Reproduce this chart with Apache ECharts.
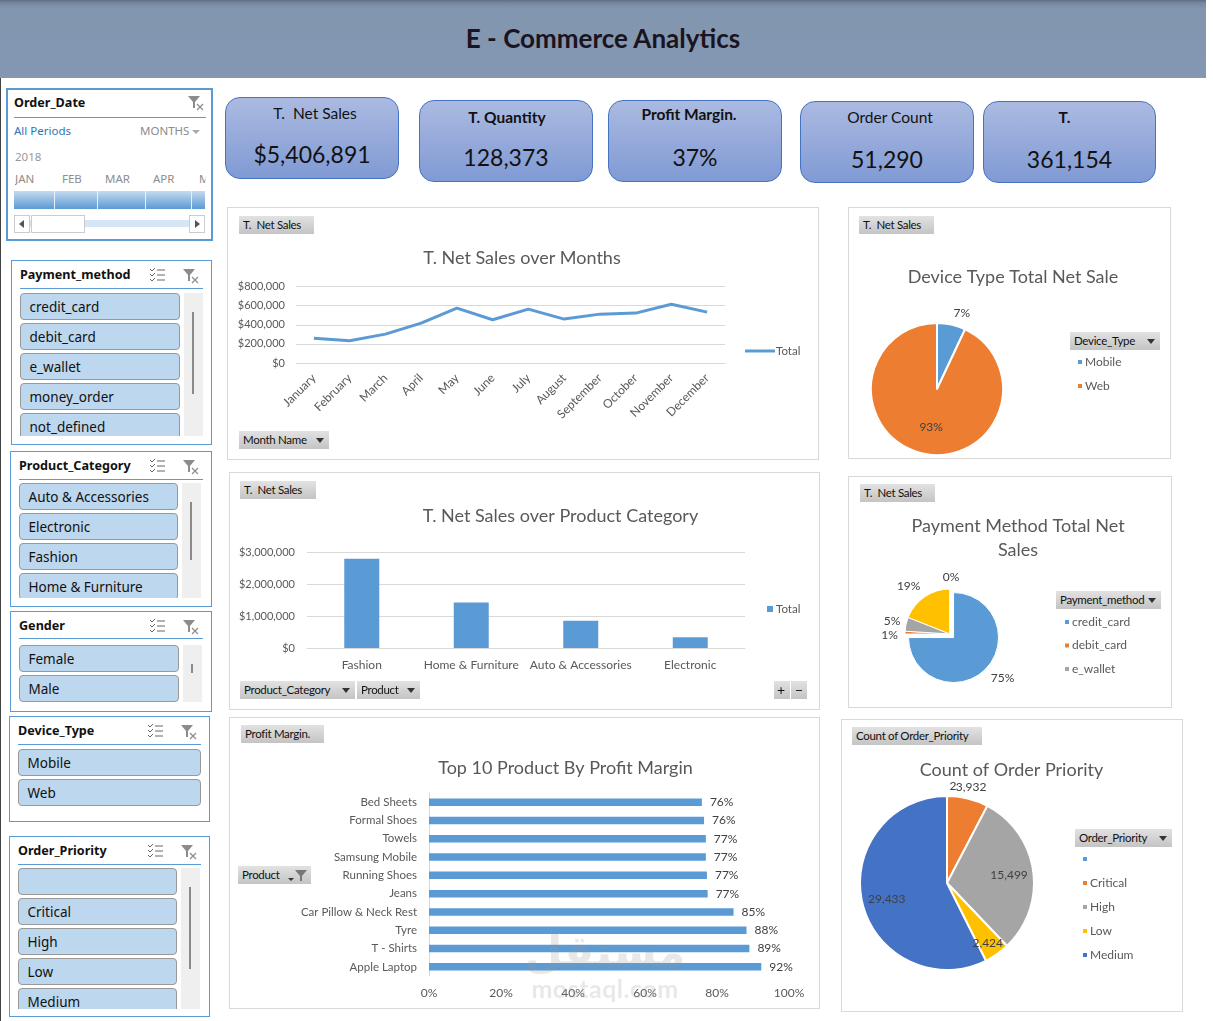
<!DOCTYPE html>
<html>
<head>
<meta charset="utf-8">
<title>E - Commerce Analytics</title>
<script src="https://cdn.jsdelivr.net/npm/echarts@6/dist/echarts.min.js"></script>
<style>
html,body{margin:0;padding:0;background:#fff;width:1213px;height:1021px;overflow:hidden;}
body{position:relative;font-family:Lato,sans-serif;}
div{box-sizing:border-box;}
.abs{position:absolute;}
#leftline{position:absolute;left:0;top:78px;width:1px;height:943px;background:#444;}
#header{position:absolute;left:0;top:0;width:1206px;height:78px;background:linear-gradient(#5f6d85 0,#76889f 3px,#8296b0 9px,#8497b2 100%);
  text-align:center;line-height:76px;font-size:26px;font-weight:700;color:#1a1420;}
.card{position:absolute;width:174px;height:82px;border:1px solid #4472c4;border-radius:15px;
  background:linear-gradient(#abbae1,#809ad4);text-align:center;color:#111;}
.card .lbl{position:absolute;left:0;right:0;font-size:15.5px;}
.card .val{position:absolute;left:0;right:0;font-size:23px;}
.frame{position:absolute;border:1px solid #d9d9d9;background:#fff;}
.frame .chart{position:absolute;left:0;top:0;width:100%;height:100%;}
.btn{position:absolute;height:18px;line-height:17px;padding-left:4px;font-size:11.5px;color:#111;white-space:nowrap;
  background:linear-gradient(#e2e2e2,#c4c4c4);letter-spacing:-.3px;}
.btn i{position:absolute;right:5px;top:7px;width:0;height:0;border:4px solid transparent;border-top:5px solid #333;border-bottom:0;}
.slicer{position:absolute;border:1.5px solid #5b9bd5;background:#fff;overflow:hidden;}
.slicer .st{position:absolute;font:700 12.6px "Noto Sans",sans-serif;color:#111;white-space:nowrap;}
.slicer .rule{position:absolute;height:1px;background:#5b9bd5;}
.slicer .item{position:absolute;height:27px;background:#bdd7ee;border:1px solid #999;border-radius:4px;
  font:13.5px/26px "Noto Sans",sans-serif;color:#111;padding-left:8.5px;white-space:nowrap;}
.slicer .clip{position:absolute;overflow:hidden;}
.slicer .track{position:absolute;background:#efefef;}
.slicer .thumb{position:absolute;width:2px;background:#8a8a8a;}
.slicer svg{position:absolute;}
.mon{position:absolute;font:11.5px "Noto Sans",sans-serif;color:#8c8c8c;white-space:nowrap;}
#watermark{position:absolute;left:500px;top:928px;width:210px;text-align:center;color:rgba(150,150,150,.22);pointer-events:none;}
</style>
</head>
<body>
<div id="leftline"></div>
<div id="header">E - Commerce Analytics</div>
<div id="cards"></div>
<div id="slicers"></div>

<div class="frame" style="left:227px;top:207px;width:592px;height:253px">
  <div class="chart" id="lineChart"></div>
  <div class="btn" style="left:11px;top:8px;width:75px">T.&nbsp; Net Sales</div>
  <div class="btn" style="left:11px;top:223px;width:90px">Month Name<i></i></div>
</div>
<div class="frame" style="left:229px;top:472px;width:591px;height:238px">
  <div class="chart" id="columnChart"></div>
  <div class="btn" style="left:10px;top:8px;width:76px">T.&nbsp; Net Sales</div>
  <div class="btn" style="left:10px;top:208px;width:115px">Product_Category<i></i></div>
  <div class="btn" style="left:127px;top:208px;width:63px">Product<i></i></div>
  <div class="btn" style="left:544px;top:208px;width:16px;padding-left:3px;font-size:14px">+</div>
  <div class="btn" style="left:561px;top:208px;width:16px;padding-left:4px;font-size:14px">&minus;</div>
</div>
<div class="frame" style="left:229px;top:717px;width:591px;height:292px">
  <div class="chart" id="barChart"></div>
  <div class="btn" style="left:11px;top:7px;width:83px">Profit Margin.</div>
  <div class="btn" style="left:8px;top:148px;width:73px">Product
    <svg style="position:absolute;left:47px;top:3px" width="24" height="13"><path d="M3 9h6l-3 3z" fill="#333"/><path d="M10 1h12l-5 6v5h-2V7z" fill="#777"/></svg>
  </div>
</div>
<div class="frame" style="left:848px;top:207px;width:323px;height:252px">
  <div class="chart" id="devicePie"></div>
  <div class="btn" style="left:10px;top:8px;width:75px">T.&nbsp; Net Sales</div>
  <div class="btn" style="left:221px;top:124px;width:90px">Device_Type<i></i></div>
</div>
<div class="frame" style="left:848px;top:476px;width:324px;height:232px">
  <div class="chart" id="paymentPie"></div>
  <div class="btn" style="left:11px;top:7px;width:75px">T.&nbsp; Net Sales</div>
  <div class="btn" style="left:207px;top:114px;width:105px">Payment_method<i></i></div>
</div>
<div class="frame" style="left:841px;top:719px;width:342px;height:293px">
  <div class="chart" id="priorityPie"></div>
  <div class="btn" style="left:10px;top:7px;width:130px">Count of Order_Priority</div>
  <div class="btn" style="left:233px;top:109px;width:97px">Order_Priority<i></i></div>
</div>

<div id="watermark">
  <div style="font:700 44px/48px 'DejaVu Sans',sans-serif">مستقل</div>
  <div style="font:700 25px/24px Lato,sans-serif;letter-spacing:.5px">mostaql.com</div>
</div>

<script>
// chart values
var months = ['January','February','March','April','May','June','July','August','September','October','November','December'];
var monthSales = [260000,233000,302000,417000,574000,452000,563000,459000,511000,522000,615000,532000];

var categories = ['Fashion','Home & Furniture','Auto & Accessories','Electronic'];
var categorySales = [2790000,1420000,850000,335000];

var products = ['Bed Sheets','Formal Shoes','Towels','Samsung Mobile','Running Shoes','Jeans','Car Pillow & Neck Rest','Tyre','T - Shirts','Apple Laptop'];
var margins = [0.758,0.764,0.769,0.769,0.772,0.774,0.846,0.882,0.890,0.923];

var deviceNames = ['Mobile','Web'];
var deviceShare = [7,93];

var paymentNames = ['credit_card','debit_card','e_wallet','money_order','not_defined'];
var paymentShare = [75,1,5,19,0];

// first name is the blank priority, its "2" sits on top of the 3,932 label
var priorityNames = [' ','Critical','High','Low','Medium'];
var priorityCounts = [2,3932,15499,2424,29433];

var kpiLabels = ['T.&nbsp; Net Sales','T. Quantity','Profit Margin.','Order Count','T.'];
var kpiValues = ['$5,406,891','128,373','37%','51,290','361,154'];

var paymentItems = paymentNames;
var categoryItems = ['Auto & Accessories','Electronic','Fashion','Home & Furniture'];
var genderItems = ['Female','Male'];
var deviceItems = deviceNames;
var priorityItems = ['','Critical','High','Low','Medium'];
var dateMonths = ['JAN','FEB','MAR','APR','M'];

var pieColors = ['#5b9bd5','#ed7d31','#a5a5a5','#ffc000','#4472c4'];
var textGray = '#595959';

// ---- KPI cards: x, y, label y, value y, label nudge
var cardBoxes = [[225,97,114,154,3],[419,100,118,157,1],[608,100,115,157,-6],[800,101,118,159,3],[983,101,118,159,-5]];
var cardHtml = '';
kpiLabels.forEach(function (l, i) {
  var b = cardBoxes[i], bold = (i == 1 || i == 2 || i == 4) ? 'font-weight:700;' : '';
  cardHtml += '<div class="card" style="left:' + b[0] + 'px;top:' + b[1] + 'px;width:' + (i == 4 ? 173 : 174) + 'px">' +
    '<div class="lbl" style="' + bold + 'top:' + (b[2] - b[1] - 11) + 'px;transform:translateX(' + b[4] + 'px)">' + l + '</div>' +
    '<div class="val" style="top:' + (b[3] - b[1] - 15) + 'px">' + kpiValues[i] + '</div></div>';
});
document.getElementById('cards').innerHTML = cardHtml;

// ---- slicers
var filterIcon = function (x, y) {
  return '<svg style="left:' + x + 'px;top:' + y + 'px" width="18" height="18"><path d="M1 2h12l-5 6v6h-2V8z" fill="#8c8c8c"/>' +
    '<path d="M10 10l6 6M16 10l-6 6" stroke="#8c8c8c" stroke-width="1.2"/></svg>';
};
var listIcon = function (x, y) {
  return '<svg style="left:' + x + 'px;top:' + y + 'px" width="18" height="16" fill="none" stroke="#666" stroke-width="1">' +
    '<path d="M1 2l2 2 3-3M1 7l2 2 3-3M1 12l2 2 3-3"/><path d="M8 3h8M8 8h8M8 13h8"/></svg>';
};
function slicer(o) {
  var h = '<div class="slicer" style="left:' + o.x + 'px;top:' + o.y + 'px;width:' + o.w + 'px;height:' + o.h + 'px">';
  h += '<div class="st" style="left:8px;top:5px">' + o.title + '</div>';
  h += '<div class="rule" style="left:8px;width:' + (o.w - 18) + 'px;top:' + o.ruleY + 'px"></div>';
  h += listIcon(o.w - 64, 6) + filterIcon(o.w - 31, 6);
  h += '<div class="clip" style="left:8px;top:' + (o.ruleY + o.gap) + 'px;width:' + o.itemW + 'px;height:' + o.clipH + 'px">';
  o.items.forEach(function (t, i) {
    h += '<div class="item" style="left:0;width:100%;top:' + (i * 30) + 'px">' + t.replace('&', '&amp;') + '</div>';
  });
  h += '</div>';
  if (o.track) {
    h += '<div class="track" style="left:' + (o.itemW + 12) + 'px;top:' + (o.ruleY + o.gap) + 'px;width:19px;height:' + o.clipH + 'px"></div>';
    h += '<div class="thumb" style="left:' + (o.itemW + 20) + 'px;top:' + o.track[0] + 'px;height:' + o.track[1] + 'px"></div>';
  }
  return h + '</div>';
}
var slicerHtml = '';
slicerHtml += slicer({title:'Payment_method', x:11, y:260, w:201, h:185, ruleY:27, gap:5, itemW:160, clipH:143, items:paymentItems, track:[51,82]});
slicerHtml += slicer({title:'Product_Category', x:10, y:451, w:202, h:156, ruleY:27, gap:4, itemW:159, clipH:115, items:categoryItems, track:[50,58]});
slicerHtml += slicer({title:'Gender', x:10, y:611, w:202, h:101, ruleY:26, gap:6.5, itemW:160, clipH:57, items:genderItems, track:[52,9]});
slicerHtml += slicer({title:'Device_Type', x:9, y:716, w:201, h:106, ruleY:27, gap:5, itemW:183, clipH:60, items:deviceItems});
slicerHtml += slicer({title:'Order_Priority', x:9, y:836, w:201, h:181, ruleY:27, gap:4, itemW:159, clipH:141, items:priorityItems, track:[50,82]});
// date timeline
var d = '<div class="slicer" style="left:6px;top:88px;width:207px;height:153px;border:2px solid #5b9bd5">';
d += '<div class="st" style="left:6px;top:4px">Order_Date</div>';
d += '<div class="rule" style="left:6px;width:192px;top:27px"></div>' + filterIcon(179, 4);
d += '<div class="mon" style="left:6px;top:33px;color:#2e75b6">All Periods</div>';
d += '<div class="mon" style="left:132px;top:33px">MONTHS</div><svg style="left:184px;top:40px" width="9" height="6"><path d="M0 0h8l-4 4z" fill="#aaa"/></svg>';
d += '<div class="mon" style="left:7px;top:59px;color:#999">2018</div>';
var monLeft = [7,54,97,145,191];
dateMonths.forEach(function (m, i) { d += '<div class="mon" style="left:' + monLeft[i] + 'px;top:81px;clip-path:inset(0 ' + (i == 4 ? 4 : 0) + 'px 0 0)">' + m + '</div>'; });
d += '<div class="abs" style="left:6px;top:101px;width:191px;height:18px;background:linear-gradient(#c5daef,#5b9bd5)"></div>';
[46,89,137,183].forEach(function (x) { d += '<div class="abs" style="left:' + x + 'px;top:101px;width:1px;height:18px;background:#e6f0fa"></div>'; });
d += '<div class="abs" style="left:22px;top:130px;width:168px;height:7px;background:#d5e5f5"></div>';
d += '<div class="abs" style="left:6px;top:125px;width:16px;height:18px;background:#fff;border:1px solid #ccc"><svg width="14" height="16"><path d="M9 4v8l-5-4z" fill="#555"/></svg></div>';
d += '<div class="abs" style="left:23px;top:125px;width:54px;height:18px;background:#fff;border:1px solid #ccc"></div>';
d += '<div class="abs" style="left:181px;top:125px;width:16px;height:18px;background:#fff;border:1px solid #ccc"><svg width="14" height="16"><path d="M5 4v8l5-4z" fill="#555"/></svg></div>';
d += '</div>';
slicerHtml += d;
document.getElementById('slicers').innerHTML = slicerHtml;

// ---- charts
var fontFam = 'Lato';
function title(text, x, y, size) {
  return {text: text, left: x, top: y, textAlign: 'center', textStyle: {color: textGray, fontWeight: 'normal', fontFamily: fontFam, fontSize: size || 18, lineHeight: 24}};
}
function axisText(size) { return {color: textGray, fontFamily: fontFam, fontSize: size || 11.5}; }
var usd = function (v) { return '$' + v.toLocaleString('en-US'); };

var lineChart = echarts.init(document.getElementById('lineChart'));
lineChart.setOption({
  animation: false,
  title: title('T. Net Sales over Months', 289, 33),
  legend: {left: 512, top: 132, icon: 'rect', itemWidth: 30, itemHeight: 3, itemGap: 0, textStyle: {color: textGray, fontFamily: fontFam, fontSize: 11.5, padding: [0,0,0,-4]}, data: ['Total']},
  grid: {left: 68, right: 93, top: 78.5, bottom: 96},
  xAxis: {type: 'category', data: months, axisTick: {show: false}, axisLine: {lineStyle: {color: '#d9d9d9'}},
    axisLabel: Object.assign(axisText(12), {rotate: 45, interval: 0, margin: 13})},
  yAxis: {type: 'value', min: 0, max: 800000, interval: 200000, axisLabel: Object.assign(axisText(11), {formatter: usd, margin: 11}),
    splitLine: {lineStyle: {color: '#d9d9d9'}}},
  series: [{name: 'Total', type: 'line', data: monthSales, showSymbol: false, lineStyle: {color: '#5b9bd5', width: 3}, itemStyle: {color: '#5b9bd5'}}]
});

var columnChart = echarts.init(document.getElementById('columnChart'));
columnChart.setOption({
  animation: false,
  title: title('T. Net Sales over Product Category', 325.5, 26),
  legend: {left: 532, top: 125, itemWidth: 6, itemHeight: 6, icon: 'rect', itemGap: 0, textStyle: Object.assign(axisText(), {padding: [0,0,0,-2]}), data: ['Total']},
  grid: {left: 77, right: 74, top: 79, bottom: 61},
  xAxis: {type: 'category', data: categories, axisTick: {show: false}, axisLine: {lineStyle: {color: '#d9d9d9'}},
    axisLabel: Object.assign(axisText(12), {interval: 0, margin: 11})},
  yAxis: {type: 'value', min: 0, max: 3000000, interval: 1000000, axisLabel: Object.assign(axisText(11), {formatter: usd, margin: 12}),
    splitLine: {lineStyle: {color: '#d9d9d9'}}},
  series: [{name: 'Total', type: 'bar', data: categorySales, barWidth: 35, itemStyle: {color: '#5b9bd5'}}]
});

var barChart = echarts.init(document.getElementById('barChart'));
barChart.setOption({
  animation: false,
  title: title('Top 10 Product By Profit Margin', 330.5, 33),
  grid: {left: 199, right: 30, top: 75, bottom: 32},
  xAxis: {type: 'value', min: 0, max: 1, interval: 0.2, splitLine: {show: false}, axisLine: {show: false},
    axisLabel: Object.assign(axisText(12), {margin: 11, formatter: function (v) { return Math.round(v * 100) + '%'; }})},
  yAxis: {type: 'category', inverse: true, data: products, axisTick: {show: false}, axisLine: {lineStyle: {color: '#d9d9d9'}},
    axisLabel: Object.assign(axisText(), {interval: 0, margin: 12})},
  series: [{type: 'bar', data: margins, barWidth: 7.5, itemStyle: {color: '#5b9bd5'},
    label: {show: true, position: 'right', distance: 8, color: '#404040', fontFamily: fontFam, fontSize: 12,
      formatter: function (p) { return Math.round(p.value * 100) + '%'; }}}]
});

function pie(id, o) {
  var c = echarts.init(document.getElementById(id));
  c.setOption({
    animation: false,
    title: title(o.title, o.titleX, o.titleY, o.titleSize),
    legend: {left: o.legendX, top: o.legendY, orient: 'vertical', icon: 'rect', itemWidth: 6, itemHeight: 6, itemGap: o.legendGap,
      selectedMode: false, textStyle: Object.assign(axisText(12), {padding: [0,0,0,-3]}), data: o.names.slice(0, o.legendCount)},
    color: pieColors,
    series: [{
      type: 'pie', center: o.center, radius: o.r, startAngle: 90, clockwise: true,
      selectedMode: o.explode ? 'multiple' : false, selectedOffset: o.explode || 0,
      percentPrecision: 0,
      itemStyle: {borderColor: '#fff', borderWidth: o.border},
      // only the first slice is pulled out of the pie
      data: o.names.map(function (n, i) { return {name: n, value: o.values[i], selected: !!o.explode && i == 0}; }),
      label: {show: true, position: 'inside', color: '#404040', fontFamily: fontFam, fontSize: 12, formatter: o.fmt},
      labelLine: {show: false},
      labelLayout: function (p) { return {dx: o.nudge[p.dataIndex][0], dy: o.nudge[p.dataIndex][1]}; }
    }]
  });
}
pie('devicePie', {title: 'Device Type Total Net Sale', titleX: 159, titleY: 52, names: deviceNames, values: deviceShare,
  center: [88, 181], r: 66, border: 2, fmt: '{d}%', nudge: [[17,-41],[2,3]],
  legendX: 222, legendY: 143, legendGap: 12, legendCount: 2});
pie('paymentPie', {title: 'Payment Method Total Net\nSales', titleX: 164, titleY: 32, names: paymentNames, values: paymentShare,
  center: [101, 157], r: 45, border: 1, explode: 5, fmt: '{d}%', nudge: [[31,23],[-35,2],[-33,-7],[-27,-27],[1,-31]],
  legendX: 209, legendY: 134, legendGap: 11.5, legendCount: 3});
pie('priorityPie', {title: 'Count of Order Priority', titleX: 164.5, titleY: 33, names: priorityNames, values: priorityCounts,
  center: [105, 163], r: 87, border: 2, fmt: function (p) { return p.value.toLocaleString('en-US'); },
  nudge: [[6,-50],[13,-51],[16,-1],[14,22],[-15,5]],
  legendX: 234, legendY: 128, legendGap: 12, legendCount: 5});
</script>
</body>
</html>
